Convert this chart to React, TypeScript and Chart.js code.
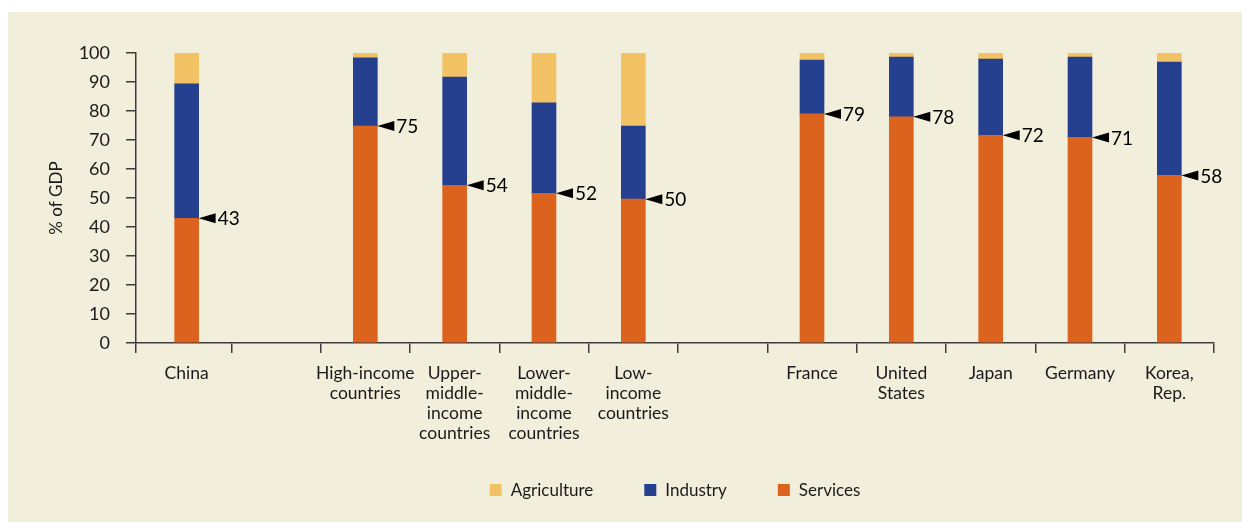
import React, { useEffect, useRef } from 'react';
import { Chart, registerables } from 'chart.js';

Chart.register(...registerables);

const categories: (string | string[])[] = [
  'China',
  '',
  ['High-income', 'countries'],
  ['Upper-', 'middle-', 'income', 'countries'],
  ['Lower-', 'middle-', 'income', 'countries'],
  ['Low-', 'income', 'countries'],
  '',
  'France',
  ['United', 'States'],
  'Japan',
  'Germany',
  ['Korea,', 'Rep.'],
];

const services: (number | null)[] = [43, null, 74.8, 54.4, 51.6, 49.6, null, 79, 78, 71.6, 70.9, 57.8];
const industry: (number | null)[] = [46.4, null, 23.5, 37.3, 31.2, 25.2, null, 18.6, 20.6, 26.3, 27.7, 39.1];
const agriculture: (number | null)[] = [10.6, null, 1.7, 8.3, 17.2, 25.2, null, 2.4, 1.4, 2.1, 1.4, 3.1];

const seriesNames = ['Services', 'Industry', 'Agriculture'];
const legendOrder = ['Agriculture', 'Industry', 'Services'];

// the y axis sits slightly left of the first category's edge in the original
const X_MIN = -0.567;
const X_MAX = categories.length - 0.5;

const COLORS: Record<string, string> = {
  Agriculture: '#F2C264',
  Industry: '#24408E',
  Services: '#DC631E',
};

const FONT = 'Lato, "Open Sans", sans-serif';
const TEXT = '#1a1a1a';
const AXIS = '#3c3c3c';

const serviceLabels = {
  id: 'serviceLabels',
  afterDatasetsDraw(chart: any) {
    const ctx = chart.ctx;
    const meta = chart.getDatasetMeta(0);
    ctx.save();
    ctx.fillStyle = '#000';
    ctx.font = `19px ${FONT}`;
    ctx.textAlign = 'left';
    ctx.textBaseline = 'middle';
    meta.data.forEach((bar: any, i: number) => {
      const v = services[i];
      if (v == null) return;
      const { x, y, width } = bar.getProps(['x', 'y', 'width'], true);
      const r = x + width / 2;
      ctx.beginPath();
      ctx.moveTo(r, y);
      ctx.lineTo(r + 17, y - 5);
      ctx.lineTo(r + 17, y + 5);
      ctx.closePath();
      ctx.fill();
      ctx.fillText(String(Math.round(v)), r + 19, y + 1);
    });
    ctx.restore();
  },
};

const customLegend = {
  id: 'customLegend',
  afterDraw(chart: any) {
    const ctx = chart.ctx;
    const ca = chart.chartArea;
    ctx.save();
    ctx.font = `17px ${FONT}`;
    const box = 12;
    const gap = 9;
    const spacing = 51;
    const widths = legendOrder.map((l) => box + gap + ctx.measureText(l).width);
    const total = widths.reduce((a, b) => a + b, 0) + spacing * (legendOrder.length - 1);
    let x = (ca.left + ca.right) / 2 - total / 2;
    const y = 478;
    ctx.textBaseline = 'middle';
    ctx.textAlign = 'left';
    legendOrder.forEach((l, i) => {
      ctx.fillStyle = COLORS[l];
      ctx.fillRect(x, y - box / 2, box, box);
      ctx.fillStyle = TEXT;
      ctx.fillText(l, x + box + gap, y + 1);
      x += widths[i] + spacing;
    });
    ctx.restore();
  },
};

export default function App() {
  const ref = useRef<HTMLCanvasElement | null>(null);

  useEffect(() => {
    if (!ref.current) return;
    const dataArrays = [services, industry, agriculture];
    const boundaries = [X_MIN, ...categories.map((_, i) => i + 0.5)];
    const centers = categories.map((_, i) => i);
    const chart = new Chart(ref.current, {
      type: 'bar',
      data: {
        datasets: seriesNames.map((name, i) => ({
          label: name,
          data: dataArrays[i].map((v, j) => ({ x: j, y: v })),
          backgroundColor: COLORS[name],
          borderWidth: 0,
          barThickness: 24,
        })),
      },
      options: {
        animation: false,
        responsive: false,
        maintainAspectRatio: false,
        layout: { padding: { left: 0, right: 28, top: 41, bottom: 0 } },
        plugins: {
          legend: { display: false },
          tooltip: { enabled: false },
        },
        scales: {
          x: {
            type: 'linear',
            stacked: true,
            offset: false,
            min: X_MIN,
            max: X_MAX,
            weight: 0,
            position: 'bottom',
            grid: {
              drawOnChartArea: false,
              drawTicks: true,
              tickLength: 10,
              color: AXIS,
              lineWidth: 1.5,
              offset: false,
            },
            border: { display: true, color: AXIS, width: 1.5 },
            ticks: { display: false },
            afterBuildTicks(scale: any) {
              scale.ticks = boundaries.map((v) => ({ value: v }));
            },
            afterFit(scale: any) {
              scale.height = 10;
            },
          },
          xLabels: {
            type: 'linear',
            axis: 'x',
            offset: false,
            min: X_MIN,
            max: X_MAX,
            weight: 1,
            position: 'bottom',
            grid: { display: false, drawTicks: false, offset: false },
            border: { display: false },
            ticks: {
              color: TEXT,
              font: { family: FONT, size: 17.5, lineHeight: 1.15 },
              padding: 10,
              maxRotation: 0,
              autoSkip: false,
              callback: (v: any) => categories[Math.round(Number(v))] ?? '',
            },
            afterBuildTicks(scale: any) {
              scale.ticks = centers.map((v) => ({ value: v }));
            },
            afterFit(scale: any) {
              scale.height = 169;
            },
          },
          y: {
            stacked: true,
            min: 0,
            max: 100,
            grid: {
              drawOnChartArea: false,
              drawTicks: true,
              tickLength: 10,
              color: AXIS,
              lineWidth: 1.5,
            },
            border: { display: true, color: AXIS, width: 1.5 },
            ticks: {
              stepSize: 10,
              color: TEXT,
              font: { family: FONT, size: 18 },
              padding: 16,
            },
            title: {
              display: true,
              text: '% of GDP',
              color: TEXT,
              font: { family: FONT, size: 17 },
              padding: { top: 38, bottom: 0 },
            },
            afterFit(scale: any) {
              scale.width = 128;
            },
          },
        },
      } as any,
      plugins: [serviceLabels, customLegend],
    });
    return () => chart.destroy();
  }, []);

  return (
    <div
      style={{
        position: 'fixed',
        left: 8,
        top: 12,
        width: 1234,
        height: 510,
        background: '#F2EEDC',
      }}
    >
      <canvas ref={ref} width={1234} height={510} style={{ display: 'block', width: 1234, height: 510 }} />
    </div>
  );
}
